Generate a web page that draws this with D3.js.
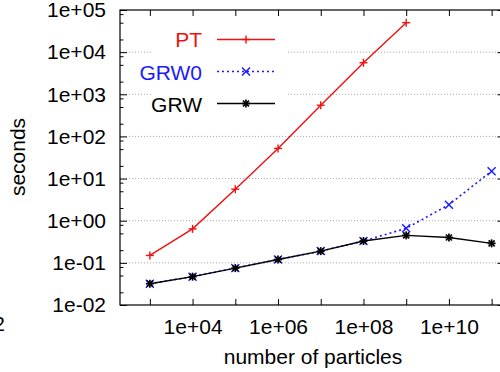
<!DOCTYPE html>
<html><head><meta charset="utf-8">
<script src="https://cdn.jsdelivr.net/npm/d3@7"></script>
<style>
html,body{margin:0;padding:0;background:#fff;overflow:hidden;}
svg{display:block;font-family:"Liberation Sans",Arial,sans-serif;}
</style></head>
<body>
<svg id="chart" width="500" height="372"></svg>
<script>
const particles = [1e3, 1e4, 1e5, 1e6, 1e7, 1e8, 1e9, 1e10, 1e11];
const ptValues   = [0.15, 0.64, 5.6, 52, 550, 5600, 50000];
const grw0Values = [0.032, 0.047, 0.075, 0.12, 0.19, 0.33, 0.66, 2.4, 15];
const grwValues  = [0.032, 0.047, 0.075, 0.12, 0.19, 0.33, 0.45, 0.40, 0.29];
const xTickValues = [1e3, 1e4, 1e5, 1e6, 1e7, 1e8, 1e9, 1e10, 1e11];
const xLabelValues = [1e4, 1e6, 1e8, 1e10];
const yTickValues = [1e-2, 1e-1, 1e0, 1e1, 1e2, 1e3, 1e4, 1e5];
const seriesNames = ["PT", "GRW0", "GRW"];

const svg = d3.select("#chart");
const L = 120, R = 504.5, T = 10, B = 305;
const x = d3.scaleLog().domain([200, 2e11]).range([L, R]);
const y = d3.scaleLog().domain([1e-2, 1e5]).range([B, T]);
const fmt = v => { const e = Math.round(Math.log10(v)); return "1e" + (e < 0 ? "-" : "+") + String(Math.abs(e)).padStart(2, "0"); };

// minor y ticks
const yMinor = [];
for (let e = -2; e < 5; e++) [2, 5, 8].forEach(m => yMinor.push(m * Math.pow(10, e)));

// grid
svg.append("g").selectAll("line").data(yTickValues.slice(1, -1)).join("line")
  .attr("x1", L).attr("x2", R).attr("y1", d => y(d)).attr("y2", d => y(d))
  .attr("stroke", "#aaa").attr("stroke-width", 1).attr("stroke-dasharray", "1,2");

// legend background (hides grid)
svg.append("rect").attr("x", 152).attr("y", 24).attr("width", 135).attr("height", 96).attr("fill", "#fff");

// axes
const axStyle = g => {
  g.select(".domain").remove();
  g.selectAll(".tick line").attr("stroke", "#000").attr("stroke-width", 1);
  g.selectAll("text").attr("font-size", 21).attr("fill", "#000")
    .attr("font-family", "'Liberation Sans',Arial,sans-serif");
};
svg.append("g").attr("transform", `translate(0,${B})`)
  .call(d3.axisBottom(x).tickValues(xTickValues).tickSizeInner(-6).tickSizeOuter(0)
    .tickPadding(14).tickFormat(d => xLabelValues.includes(d) ? fmt(d) : ""))
  .call(axStyle);
svg.append("g").attr("transform", `translate(0,${T})`)
  .call(d3.axisTop(x).tickValues(xTickValues).tickSizeInner(-6).tickSizeOuter(0).tickFormat(""))
  .call(axStyle);
svg.append("g").attr("transform", `translate(${L},0)`)
  .call(d3.axisLeft(y).tickValues(yTickValues).tickSizeInner(-7).tickSizeOuter(0).tickPadding(14).tickFormat(fmt))
  .call(axStyle);
svg.append("g").attr("transform", `translate(${L},0)`)
  .call(d3.axisLeft(y).tickValues(yMinor).tickSizeInner(-3.5).tickSizeOuter(0).tickFormat(""))
  .call(axStyle);
svg.append("g").attr("transform", `translate(${R},0)`)
  .call(d3.axisRight(y).tickValues(yTickValues).tickSizeInner(-7).tickSizeOuter(0).tickFormat(""))
  .call(axStyle);
svg.append("g").attr("transform", `translate(${R},0)`)
  .call(d3.axisRight(y).tickValues(yMinor).tickSizeInner(-3.5).tickSizeOuter(0).tickFormat(""))
  .call(axStyle);

// frame
svg.append("rect").attr("x", L).attr("y", T).attr("width", R - L).attr("height", B - T)
  .attr("fill", "none").attr("stroke", "#000").attr("stroke-width", 1.2);

// axis titles
svg.append("text").attr("transform", "translate(25,157) rotate(-90)").attr("text-anchor", "middle")
  .attr("font-size", 21).text("seconds");
svg.append("text").attr("x", 313).attr("y", 364).attr("text-anchor", "middle")
  .attr("font-size", 21).text("number of particles");
svg.append("text").attr("x", 5).attr("y", 331).attr("text-anchor", "end")
  .attr("font-size", 21).text("2");

// markers
function marker(g, type, cx, cy, color) {
  const s = 4;
  const segs = [];
  if (type === "plus" || type === "star") segs.push([-s, 0, s, 0], [0, -s, 0, s]);
  if (type === "cross" || type === "star") { const t = type === "star" ? 3 : 4; segs.push([-t, -t, t, t], [-t, t, t, -t]); }
  segs.forEach(sg => g.append("line")
    .attr("x1", cx + sg[0]).attr("y1", cy + sg[1]).attr("x2", cx + sg[2]).attr("y2", cy + sg[3])
    .attr("stroke", color).attr("stroke-width", type === "star" ? 1.7 : 1.4));
}

const series = [
  {name: seriesNames[1], values: grw0Values, color: "#1a1aff", dash: "2,3", type: "cross", ly: 71.5, ty: 79.5},
  {name: seriesNames[0], values: ptValues, color: "#ee1111", dash: null, type: "plus", ly: 39.5, ty: 47},
  {name: seriesNames[2], values: grwValues, color: "#000", dash: null, type: "star", ly: 103.5, ty: 111.5},
];
const line = d3.line().x(d => x(d[0])).y(d => y(d[1]));
series.forEach(s => {
  const pts = s.values.map((v, i) => [particles[i], v]);
  const g = svg.append("g");
  g.append("path").attr("d", line(pts)).attr("fill", "none").attr("stroke", s.color)
    .attr("stroke-width", s.dash ? 1.6 : 1.4).attr("stroke-dasharray", s.dash);
  pts.forEach(p => marker(g, s.type, x(p[0]), y(p[1]), s.color));
  // legend
  svg.append("text").attr("x", 202).attr("y", s.ty).attr("text-anchor", "end")
    .attr("font-size", 21).attr("fill", s.color).text(s.name);
  svg.append("line").attr("x1", 217).attr("x2", 275).attr("y1", s.ly).attr("y2", s.ly)
    .attr("stroke", s.color).attr("stroke-width", s.dash ? 1.6 : 1.4).attr("stroke-dasharray", s.dash);
  marker(svg, s.type, 246, s.ly, s.color);
});
</script>
</body></html>
